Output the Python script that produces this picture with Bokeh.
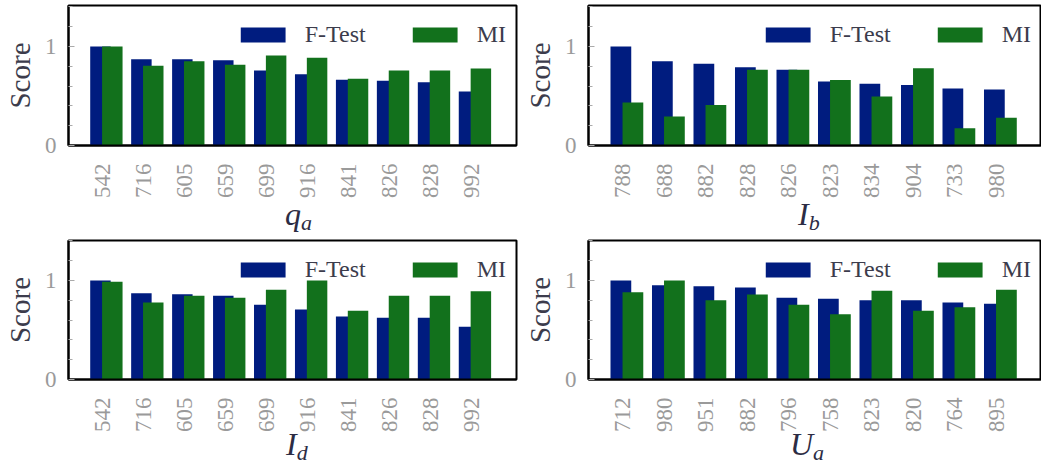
import math
from bokeh.plotting import figure
from bokeh.layouts import column, row
from bokeh.models import FixedTicker, ColumnDataSource, Div
from bokeh.embed import file_html
from bokeh.resources import INLINE

# ---- data ----
cats_qa = ["542", "716", "605", "659", "699", "916", "841", "826", "828", "992"]
ftest_qa = [1.00, 0.872, 0.872, 0.862, 0.758, 0.72, 0.663, 0.653, 0.64, 0.545]
mi_qa = [1.00, 0.805, 0.852, 0.815, 0.909, 0.886, 0.673, 0.758, 0.758, 0.778]

cats_ib = ["788", "688", "882", "828", "826", "823", "834", "904", "733", "980"]
ftest_ib = [1.00, 0.851, 0.827, 0.79, 0.766, 0.647, 0.624, 0.61, 0.576, 0.566]
mi_ib = [0.434, 0.292, 0.41, 0.766, 0.766, 0.661, 0.495, 0.78, 0.173, 0.281]

cats_id = ["542", "716", "605", "659", "699", "916", "841", "826", "828", "992"]
ftest_id = [1.00, 0.872, 0.862, 0.845, 0.754, 0.707, 0.636, 0.623, 0.623, 0.532]
mi_id = [0.987, 0.778, 0.845, 0.825, 0.906, 1.00, 0.694, 0.845, 0.845, 0.892]

cats_ua = ["712", "980", "951", "882", "796", "758", "823", "820", "764", "895"]
ftest_ua = [1.00, 0.953, 0.943, 0.929, 0.825, 0.815, 0.801, 0.801, 0.778, 0.764]
mi_ua = [0.882, 1.00, 0.801, 0.859, 0.754, 0.66, 0.896, 0.694, 0.731, 0.906]

series_names = ["F-Test", "MI"]
xlabels = [("q", "a"), ("I", "b"), ("I", "d"), ("U", "a")]

BLUE = "#001c7f"
GREEN = "#12711c"
FONT = "Liberation Serif"
PX_X = 41.5   # px per category
PX_Y = 99.0   # px per score unit


def make_panel(cats, ftest, mi, lab, width, height, bl, br, bt, bb, div_h, lab_left, lab_top):
    frame_w = width - bl - br
    frame_h = height - bt - bb
    x0 = -0.83
    x1 = x0 + frame_w / PX_X
    y1 = frame_h / PX_Y
    p = figure(width=width, height=height, x_range=(x0, x1), y_range=(0, y1),
               output_backend="svg", toolbar_location=None, title=None,
               min_border_left=bl, min_border_right=br,
               min_border_top=bt, min_border_bottom=bb)
    idx = list(range(len(cats)))
    src = ColumnDataSource(dict(xb=[i - 0.05 for i in idx], xg=[i + 0.24 for i in idx],
                                f=ftest, m=mi))
    p.vbar(x="xb", top="f", width=0.5, source=src, fill_color=BLUE,
           line_color=None, legend_label=series_names[0])
    p.vbar(x="xg", top="m", width=0.5, source=src, fill_color=GREEN,
           line_color=None, legend_label=series_names[1])

    p.xgrid.visible = False
    p.ygrid.visible = False
    p.outline_line_color = "black"
    p.outline_line_width = 2
    p.outline_line_alpha = 1

    xa = p.xaxis[0]
    xa.ticker = FixedTicker(ticks=idx)
    xa.major_label_overrides = {i: c for i, c in zip(idx, cats)}
    xa.major_label_orientation = math.pi / 2
    xa.major_tick_line_color = None
    xa.minor_tick_line_color = None
    xa.axis_line_color = "black"
    xa.axis_line_width = 2
    xa.major_label_text_font = FONT
    xa.major_label_text_font_size = "23px"
    xa.major_label_text_color = "#9a9a9a"
    xa.major_label_standoff = 12

    ya = p.yaxis[0]
    ya.ticker = FixedTicker(ticks=[0, 1], minor_ticks=[0.2, 0.4, 0.6, 0.8, 1.2, 1.4])
    ya.axis_line_color = "black"
    ya.axis_line_width = 2
    ya.major_tick_in = 6
    ya.major_tick_out = 0
    ya.minor_tick_in = 4
    ya.minor_tick_out = 0
    ya.major_tick_line_color = "#aaaaaa"
    ya.minor_tick_line_color = "#aaaaaa"
    ya.major_label_text_font = FONT
    ya.major_label_text_font_size = "23px"
    ya.major_label_text_color = "#9a9a9a"
    ya.major_label_standoff = 12
    ya.axis_label = "Score"
    ya.axis_label_text_font = FONT
    ya.axis_label_text_font_size = "29px"
    ya.axis_label_text_font_style = "normal"
    ya.axis_label_text_color = "#3c3c4c"
    ya.axis_label_standoff = 6

    lg = p.legend[0]
    lg.location = "top_right"
    lg.orientation = "horizontal"
    lg.border_line_color = None
    lg.background_fill_alpha = 0
    lg.margin = 10
    lg.padding = 8
    lg.title = " "
    lg.title_text_font_size = "6px"
    lg.title_standoff = 0
    lg.glyph_width = 56
    lg.glyph_height = 19
    lg.label_height = 19
    lg.label_standoff = 14
    lg.spacing = 41
    lg.label_text_font = FONT
    lg.label_text_font_size = "24px"
    lg.label_text_color = "#3c3c4c"

    main, sub = lab
    html = (
        f'<div style="padding-left:{lab_left}px;'
        f'text-align:left;font-family:\'{FONT}\';font-size:32px;line-height:30px;'
        f'color:#2c2c44;margin-top:{lab_top}px;white-space:nowrap">'
        f'<i>{main}</i><i style="font-size:22px;position:relative;top:5px">{sub}</i></div>'
    )
    d = Div(text=html, width=width, height=div_h, margin=0)
    return column(p, d, spacing=0)


c1 = make_panel(cats_qa, ftest_qa, mi_qa, xlabels[0], 520, 202, 62, 4, 5, 57, 30, 285, -3)
c2 = make_panel(cats_ib, ftest_ib, mi_ib, xlabels[1], 521, 202, 68, 0, 5, 57, 30, 278, -3)
c3 = make_panel(cats_id, ftest_id, mi_id, xlabels[2], 520, 203, 62, 4, 8, 56, 26, 286, -6)
c4 = make_panel(cats_ua, ftest_ua, mi_ua, xlabels[3], 521, 203, 68, 0, 8, 56, 26, 270, -6)

layout = column(row(c1, c2, spacing=0), row(c3, c4, spacing=0), spacing=0)
open("out.html", "w").write(file_html(layout, INLINE))
